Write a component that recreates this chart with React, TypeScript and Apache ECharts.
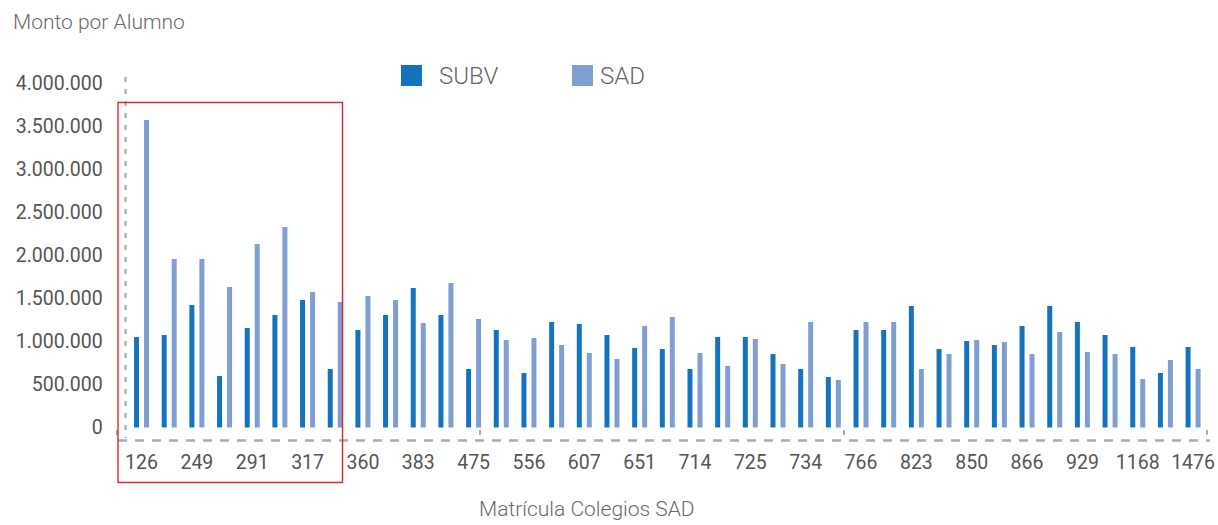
import React, { useEffect, useRef } from 'react';
import * as echarts from 'echarts';

// Matrícula (enrollment) categories; only every other one is labelled in the source
const categories: string[] = [
  '126', '', '249', '', '291', '', '317', '', '360', '', '383', '', '475', '',
  '556', '', '607', '', '651', '', '714', '', '725', '', '734', '', '766', '',
  '823', '', '850', '', '866', '', '929', '', '1168', '', '1476',
];

const subv: number[] = [
  1050000, 1074000, 1422000, 598000, 1155000, 1306000, 1480000, 679000,
  1132000, 1306000, 1620000, 1306000, 679000, 1132000, 633000, 1225000, 1202000, 1074000,
  923000, 911000, 679000, 1051000, 1051000, 853000, 679000, 586000, 1132000, 1132000,
  1411000, 911000, 1004000, 958000, 1179000, 1411000, 1225000, 1074000, 935000, 633000, 935000,
];

const sad: number[] = [
  3570000, 1956000, 1956000, 1631000, 2131000, 2328000, 1573000, 1457000,
  1527000, 1480000, 1213000, 1678000, 1260000, 1016000, 1039000, 958000, 865000, 795000,
  1179000, 1283000, 865000, 714000, 1028000, 737000, 1225000, 552000, 1225000, 1225000,
  679000, 853000, 1016000, 993000, 853000, 1109000, 877000, 853000, 563000, 784000, 679000,
];

const seriesNames = ['SUBV', 'SAD'];
const yTicks = { min: 0, max: 4000000, interval: 500000 };

const FONT = "Roboto, 'DejaVu Sans Condensed', sans-serif";
const C_SUBV = '#1473BE';
const C_SAD = '#7F9FD3';
const AXIS_GRAY = '#ABABAB';

const fmt = (v: number) => String(v).replace(/\B(?=(\d{3})+(?!\d))/g, '.');

export default function App() {
  const ref = useRef<HTMLDivElement>(null);
  useEffect(() => {
    document.body.style.margin = '0';
    const chart = echarts.init(ref.current!, null, { renderer: 'svg' });
    const legendBase = {
      top: 63.5,
      padding: 0,
      itemWidth: 21,
      itemHeight: 21,
      icon: 'rect',
      selectedMode: false,
    };
    chart.setOption({
      animation: false,
      backgroundColor: '#ffffff',
      title: [
        {
          text: 'Monto por Alumno',
          left: 13,
          top: 11,
          padding: 0,
          textStyle: { fontSize: 21, fontWeight: 300, color: '#6a6a6a', fontFamily: FONT },
        },
        {
          text: 'Matrícula Colegios SAD',
          left: 479,
          top: 498,
          padding: 0,
          textStyle: { fontSize: 21, fontWeight: 300, color: '#6a6a6a', fontFamily: FONT },
        },
      ],
      legend: [
        {
          ...legendBase,
          left: 401,
          data: [seriesNames[0]],
          textStyle: { fontSize: 24, fontWeight: 300, color: '#666666', fontFamily: FONT, padding: [0, 0, 0, 12] },
        },
        {
          ...legendBase,
          left: 572,
          data: [seriesNames[1]],
          textStyle: { fontSize: 24, fontWeight: 300, color: '#666666', fontFamily: FONT, padding: [0, 0, 0, 2] },
        },
      ],
      grid: { left: 127.7, right: 10.7, top: 83, bottom: 97.5, containLabel: false },
      xAxis: {
        type: 'category',
        data: categories,
        axisLine: { show: false },
        axisTick: { show: false },
        axisLabel: {
          interval: 0,
          margin: 25,
          fontSize: 19.5,
          color: '#555555',
          fontFamily: FONT,
        },
        splitLine: { show: false },
      },
      yAxis: {
        type: 'value',
        min: yTicks.min,
        max: yTicks.max,
        interval: yTicks.interval,
        axisLine: { show: false },
        axisTick: { show: false },
        splitLine: { show: false },
        axisLabel: {
          margin: 25,
          fontSize: 19.5,
          color: '#555555',
          fontFamily: FONT,
          formatter: (v: number) => fmt(v),
        },
      },
      series: [
        {
          name: seriesNames[0],
          type: 'bar',
          data: subv,
          barWidth: 5,
          barGap: '100%',
          itemStyle: { color: C_SUBV },
        },
        {
          name: seriesNames[1],
          type: 'bar',
          data: sad,
          barWidth: 5,
          barGap: '100%',
          itemStyle: { color: C_SAD },
        },
      ],
      graphic: [
        {
          type: 'line',
          silent: true,
          shape: { x1: 125.5, y1: 77, x2: 125.5, y2: 438 },
          style: { stroke: AXIS_GRAY, lineWidth: 2.2, lineDash: [5, 7] },
        },
        {
          type: 'line',
          silent: true,
          shape: { x1: 118, y1: 440.5, x2: 1210, y2: 440.5 },
          style: { stroke: AXIS_GRAY, lineWidth: 2.6, lineDash: [9, 8] },
        },
        ...[117, 480, 844, 1207].map((x) => ({
          type: 'line',
          silent: true,
          shape: { x1: x, y1: 430, x2: x, y2: 435 },
          style: { stroke: AXIS_GRAY, lineWidth: 2 },
        })),
        {
          type: 'rect',
          silent: true,
          z: 100,
          shape: { x: 118, y: 102.5, width: 224.5, height: 380 },
          style: { fill: 'none', stroke: '#E2262B', lineWidth: 1.4 },
        },
      ],
    });
    return () => chart.dispose();
  }, []);
  return <div ref={ref} style={{ width: 1218, height: 525 }} />;
}
